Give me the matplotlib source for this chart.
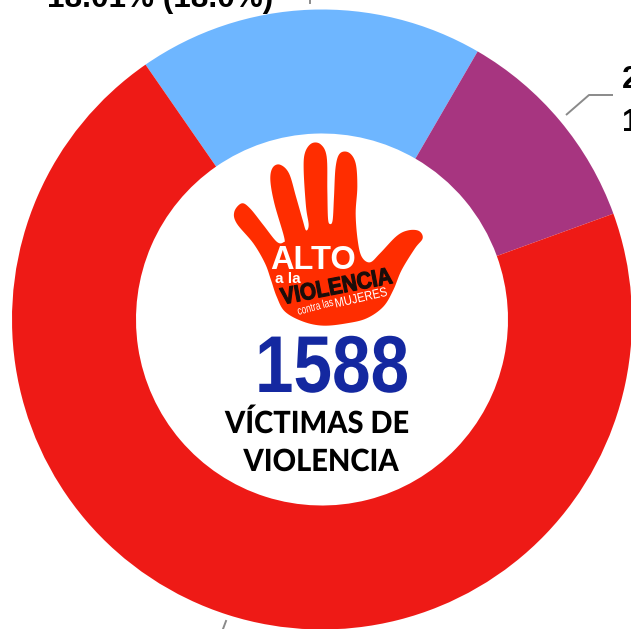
import numpy as np
import matplotlib
matplotlib.use("Agg")
import matplotlib.pyplot as plt
from matplotlib.patches import Polygon
from matplotlib.patheffects import AbstractPathEffect
from matplotlib.transforms import Affine2D

# Data
categories = ["Azul", "Morado", "Rojo"]
values = [286, 176, 1126]
colors = ["#6EB6FF", "#A73580", "#EE1A16"]
total_label = "1588"
subtitle = ["VÍCTIMAS DE", "VIOLENCIA"]
top_label = "18.01% (18.0%)"

W, H = 631, 629
fig = plt.figure(figsize=(W / 100, H / 100), dpi=100, facecolor="white")
ax = fig.add_axes([0, 0, 1, 1])


def Y(py):
    return H - py


class Squeeze(AbstractPathEffect):
    """Condense real text horizontally about a display point, along its own baseline."""

    def __init__(self, sx, cx, cy, angle=0, embolden=0):
        super().__init__()
        self.t = (Affine2D().translate(-cx, -cy).rotate_deg(-angle).scale(sx, 1)
                  .rotate_deg(angle).translate(cx, cy))
        self.embolden = embolden

    def draw_path(self, renderer, gc, tpath, affine, rgbFace=None):
        gc0 = renderer.new_gc()
        gc0.copy_properties(gc)
        if self.embolden:
            gc0.set_linewidth(self.embolden)
            gc0.set_foreground(rgbFace)
        else:
            gc0.set_linewidth(0)
        renderer.draw_path(gc0, tpath, affine + self.t, rgbFace)
        gc0.restore()


ax.pie(values, colors=colors, startangle=124.7, counterclock=False,
       center=(322, Y(319.5)), radius=310,
       wedgeprops=dict(width=124, linewidth=0))
ax.set_xlim(0, W)
ax.set_ylim(0, H)
ax.set_aspect("equal")
ax.axis("off")

# Leader lines
lc = "#8A8A8A"
ax.plot([566, 589, 613], [Y(115), Y(95), Y(95)], color=lc, lw=1.4, solid_capstyle="butt")
ax.plot([310, 310], [Y(0), Y(3)], color=lc, lw=1.4)
ax.plot([223, 226], [Y(629), Y(621)], color=lc, lw=1.4)

# Clipped outer labels
lab = dict(family="Liberation Sans", weight="bold", color="black", fontsize=22.7)
ax.text(160, Y(6.5), top_label, ha="center", va="baseline", **lab)
ax.text(622, Y(88), "2", ha="left", va="baseline", **lab)
ax.text(622, Y(131), "1", ha="left", va="baseline", **lab)

hand = np.array([
    (65, 220), (43, 245), (50, 280), (100, 340), (135, 400), (153, 450), (170, 500), (195, 545),
    (250, 575), (310, 587), (380, 580), (440, 565), (490, 530), (520, 480), (545, 420),
    (585, 355), (608, 325), (597, 303), (565, 301), (530, 318), (480, 370), (450, 397),
    (425, 380), (413, 330), (407, 250), (412, 170), (407, 100), (387, 68), (360, 70),
    (347, 110), (342, 200), (338, 270), (330, 282), (324, 265), (322, 180), (320, 80),
    (302, 43), (275, 40), (255, 68), (251, 120), (258, 230), (266, 285), (258, 301),
    (248, 270), (228, 200), (207, 130), (180, 104), (158, 113), (151, 150), (163, 220),
    (192, 320), (190, 337), (170, 335), (130, 285), (90, 235),
], dtype=float)


def smooth(p, n=8):
    out = []
    N = len(p)
    for i in range(N):
        p0, p1, p2, p3 = p[i - 1], p[i], p[(i + 1) % N], p[(i + 2) % N]
        for t in np.linspace(0, 1, n, endpoint=False):
            out.append(0.5 * (2 * p1 + (p2 - p0) * t + (2 * p0 - 5 * p1 + 4 * p2 - p3) * t ** 2
                              + (3 * p1 - p0 - 3 * p2 + p3) * t ** 3))
    return np.array(out)


s = smooth(hand)
xy = np.column_stack([220 + s[:, 0] / 3, Y(130 + s[:, 1] / 3)])
ax.add_patch(Polygon(xy, closed=True, facecolor="#FF2D00", edgecolor="none", zorder=3))


def Z(zx, zy):
    return 220 + zx / 3, Y(130 + zy / 3)


ax.text(*Z(280, 392), "ALTO", family="Liberation Sans", weight="bold", color="white",
        fontsize=23.5, ha="center", va="center", zorder=4)
ax.text(*Z(204, 446), "a la", family="Liberation Sans", color="white", weight="bold",
        fontsize=11, ha="center", va="center", zorder=4)

vx, vy = Z(350, 472)
ax.text(vx, vy, "VIOLENCIA", family="Liberation Sans", weight="bold", color="#1A0D0A",
        fontsize=17, rotation=11, rotation_mode="anchor", ha="center", va="center", zorder=4,
        path_effects=[Squeeze(0.88, vx, vy, 11, embolden=0.8)])
cx, cy = Z(286, 532)
ax.text(cx, cy, "contra las", family="Liberation Sans", color="white",
        fontsize=8.5, rotation=15, rotation_mode="anchor", ha="center", va="center", zorder=4,
        path_effects=[Squeeze(0.72, cx, cy, 15)])
mx, my = Z(424, 506)
ax.text(mx, my, "MUJERES", family="Liberation Sans", color="white",
        fontsize=9.5, rotation=13, rotation_mode="anchor", ha="center", va="center", zorder=4,
        path_effects=[Squeeze(0.85, mx, my, 13)])

# Centre text
tx, ty = 332, Y(392)
ax.text(tx, ty, total_label, family="Liberation Sans", weight="bold", color="#1428A0",
        fontsize=58, ha="center", va="baseline", zorder=4,
        path_effects=[Squeeze(0.86, tx, ty)])
for label, lx, ly in [(subtitle[0], 317, 433), (subtitle[1], 321, 471)]:
    ax.text(lx, Y(ly), label, family="Lato", weight="black", color="black",
            fontsize=22, ha="center", va="baseline", zorder=4,
            path_effects=[Squeeze(0.95, lx, Y(ly))])

fig.savefig("out.png", dpi=100)
